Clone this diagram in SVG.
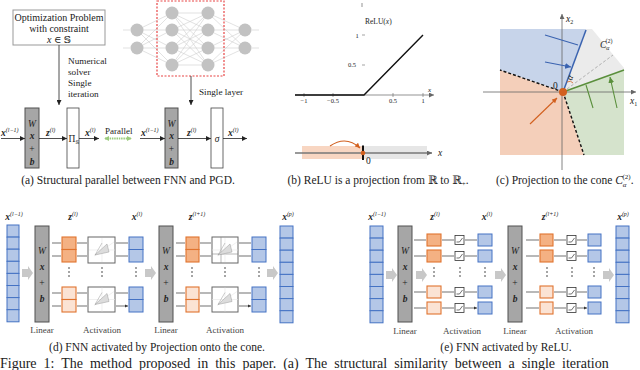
<svg xmlns="http://www.w3.org/2000/svg" width="640" height="370" viewBox="0 0 640 370">
<defs>
<style>
text{font-family:"Liberation Serif","DejaVu Serif",serif;fill:#222}
.bx{font-weight:bold;font-style:italic}
.it{font-style:italic}
.sup{font-size:6px;font-style:italic;font-weight:normal}
.cap{font-size:11.5px}
.lbl{font-size:9px;fill:#444}
.ln{stroke:#222;stroke-width:0.8;fill:none}
.sm{stroke:#333;stroke-width:0.7;fill:none}
.nn{stroke:#cfcfcf;stroke-width:0.6}
.node{fill:#c2c2c2}
.gbox{fill:#a6a6a6;stroke:#505050;stroke-width:1}
.wbox{fill:#fff;stroke:#444;stroke-width:0.8}
.blue{fill:#b4c7e7;stroke:#4472c4;stroke-width:1}
.od{fill:#f4b183;stroke:#e0742f;stroke-width:1.1}
.ol{fill:#fbe3d4;stroke:#e0742f;stroke-width:1.1}
.act{fill:#fff;stroke:#666;stroke-width:1}
.relu{fill:#fff;stroke:#333;stroke-width:0.8}
.garr{fill:#c8c8c8}
.dot{fill:#333}
</style>
<marker id="ah" viewBox="0 0 6 6" refX="6" refY="3" markerWidth="5" markerHeight="5" markerUnits="userSpaceOnUse" orient="auto"><path d="M0,0 L6,3 L0,6 z" fill="#222"/></marker>
<marker id="as" viewBox="0 0 6 6" refX="6" refY="3" markerWidth="3.5" markerHeight="3.5" markerUnits="userSpaceOnUse" orient="auto"><path d="M0,0 L6,3 L0,6 z" fill="#333"/></marker>
<marker id="ab" viewBox="0 0 6 6" refX="6" refY="3" markerWidth="6" markerHeight="6" markerUnits="userSpaceOnUse" orient="auto"><path d="M0,0 L6,3 L0,6 z" fill="#3a63b0"/></marker>
<marker id="ag" viewBox="0 0 6 6" refX="6" refY="3" markerWidth="6" markerHeight="6" markerUnits="userSpaceOnUse" orient="auto"><path d="M0,0 L6,3 L0,6 z" fill="#5a8f3c"/></marker>
<marker id="ao" viewBox="0 0 6 6" refX="6" refY="3" markerWidth="5" markerHeight="5" markerUnits="userSpaceOnUse" orient="auto"><path d="M0,0 L6,3 L0,6 z" fill="#d2601f"/></marker>
<marker id="agr" viewBox="0 0 6 6" refX="6" refY="3" markerWidth="5" markerHeight="5" markerUnits="userSpaceOnUse" orient="auto"><path d="M0,0 L6,3 L0,6 z" fill="#666"/></marker>
<marker id="apl" viewBox="0 0 6 6" refX="5" refY="3" markerWidth="5" markerHeight="5" markerUnits="userSpaceOnUse" orient="auto-start-reverse"><path d="M0,0 L6,3 L0,6 z" fill="#9ccc7e"/></marker>
<path id="garrow" d="M0,-4 L6,-4 L6,-7 L11,0 L6,7 L6,4 L0,4 z"/>
<g id="conepic">
<path d="M-8,6 L12,-8 M-13,0 L13,0 M0,-12 L0,12" stroke="#e6e6e6" stroke-width="0.6" fill="none"/>
<path d="M-7,5 L5,-6 L7,2 z" fill="#dcdcdc" stroke="#9a9a9a" stroke-width="0.5"/>
<path d="M-7,5 L0,-7" stroke="#999" stroke-width="0.5"/>
</g>
<g id="relupic"><path d="M-3,2 L0,2 L3,-2" stroke="#333" stroke-width="0.7" fill="none"/></g>
</defs>
<rect width="640" height="370" fill="#fff"/>

<!-- (a) -->
<g id="optbox">
<rect x="13" y="10" width="92" height="35" fill="#fff" stroke="#999" stroke-width="1"/>
<text x="59" y="20.5" font-size="10" text-anchor="middle">Optimization Problem</text>
<text x="59" y="31.5" font-size="10" text-anchor="middle">with constraint</text>
<text x="59" y="42.5" font-size="10" text-anchor="middle"><tspan class="it">x</tspan> ∈ 𝕊</text>
</g>
<g id="solvertext">
<text x="68" y="64" font-size="9.2">Numerical</text>
<text x="68" y="75" font-size="9.2">solver</text>
<text x="68" y="86" font-size="9.2">Single</text>
<text x="68" y="97" font-size="9.2">iteration</text>
</g>
<g id="nnet">
<g class="nn">
<path d="M137,30L172,13M137,30L172,30M137,30L172,48M137,30L172,65M137,48L172,13M137,48L172,30M137,48L172,48M137,48L172,65"/>
<path d="M172,13L208,13M172,13L208,30M172,13L208,48M172,13L208,65M172,30L208,13M172,30L208,30M172,30L208,48M172,30L208,65M172,48L208,13M172,48L208,30M172,48L208,48M172,48L208,65M172,65L208,13M172,65L208,30M172,65L208,48M172,65L208,65"/>
<path d="M208,13L245,30M208,30L245,30M208,48L245,30M208,65L245,30M208,13L245,48M208,30L245,48M208,48L245,48M208,65L245,48"/>
<path d="M123,30L130,30M123,48L130,48M252,30L259,30M252,48L259,48"/>
</g>
<circle class="node" cx="137" cy="30" r="6.5"/><circle class="node" cx="137" cy="48" r="6.5"/>
<circle class="node" cx="172" cy="13" r="6.5"/><circle class="node" cx="172" cy="30" r="6.5"/><circle class="node" cx="172" cy="48" r="6.5"/><circle class="node" cx="172" cy="65" r="6.5"/>
<circle class="node" cx="208" cy="13" r="6.5"/><circle class="node" cx="208" cy="30" r="6.5"/><circle class="node" cx="208" cy="48" r="6.5"/><circle class="node" cx="208" cy="65" r="6.5"/>
<circle class="node" cx="245" cy="30" r="6.5"/><circle class="node" cx="245" cy="48" r="6.5"/>
<rect x="157" y="1" width="67" height="75" fill="none" stroke="#e84545" stroke-width="1.2" stroke-dasharray="2,1.5"/>
</g>
<text x="199" y="95" font-size="9.2">Single layer</text>

<g id="a-lin1"><rect class="gbox" x="25" y="108" width="14" height="60"/>
<text x="32" y="127" font-size="9.5" text-anchor="middle" class="it">W</text>
<text x="32" y="139" font-size="9.5" text-anchor="middle" class="bx">x</text>
<text x="32" y="152" font-size="9.5" text-anchor="middle">+</text>
<text x="32" y="165" font-size="9.5" text-anchor="middle" class="bx">b</text></g>
<g id="a-proj"><rect class="wbox" x="67" y="108" width="12" height="60"/>
<text x="68.5" y="142" font-size="9.5">Π<tspan font-size="5" dy="2">𝕊</tspan></text></g>
<g id="a-lin2"><rect class="gbox" x="165" y="108" width="13" height="60"/>
<text x="171.5" y="127" font-size="9.5" text-anchor="middle" class="it">W</text>
<text x="171.5" y="139" font-size="9.5" text-anchor="middle" class="bx">x</text>
<text x="171.5" y="152" font-size="9.5" text-anchor="middle">+</text>
<text x="171.5" y="165" font-size="9.5" text-anchor="middle" class="bx">b</text></g>
<g id="a-sigma"><rect class="wbox" x="211" y="108" width="12" height="60"/>
<text x="217" y="142" font-size="9.5" text-anchor="middle" class="it">σ</text></g>
<g id="a-labels" font-size="9.5">
<text x="1" y="136"><tspan class="bx">x</tspan><tspan class="sup" dy="-4">(l−1)</tspan></text>
<text x="46" y="136"><tspan class="bx">z</tspan><tspan class="sup" dy="-4">(l)</tspan></text>
<text x="85" y="136"><tspan class="bx">x</tspan><tspan class="sup" dy="-4">(l)</tspan></text>
<text x="105" y="134" font-size="9">Parallel</text>
<text x="141" y="136"><tspan class="bx">x</tspan><tspan class="sup" dy="-4">(l−1)</tspan></text>
<text x="187" y="136"><tspan class="bx">z</tspan><tspan class="sup" dy="-4">(l)</tspan></text>
<text x="228" y="136"><tspan class="bx">x</tspan><tspan class="sup" dy="-4">(l)</tspan></text>
</g>
<g id="a-connectors">
<path class="ln" d="M1,138.5H25" marker-end="url(#ah)"/>
<path class="ln" d="M39,138.5H67" marker-end="url(#ah)"/>
<path class="ln" d="M79,138.5H99" marker-end="url(#ah)"/>
<path class="ln" d="M140,138.5H165" marker-end="url(#ah)"/>
<path class="ln" d="M178,138.5H211" marker-end="url(#ah)"/>
<path class="ln" d="M223,138.5H247" marker-end="url(#ah)"/>
<path class="ln" d="M59,45V105" marker-end="url(#ah)"/>
<path class="ln" d="M191,76V105" marker-end="url(#ah)"/>
<path d="M105,138.5H131" stroke="#9ccc7e" stroke-width="2" stroke-dasharray="1.5,0.8" marker-start="url(#apl)" marker-end="url(#apl)"/>
</g>
<text x="128" y="184" class="cap" text-anchor="middle">(a) Structural parallel between FNN and PGD.</text>

<!-- (b) -->
<g id="relu-plot">
<path d="M295,95H434" stroke="#666" stroke-width="0.7" marker-end="url(#agr)"/>
<path d="M362,3V7" stroke="#666" stroke-width="0.7"/>
<path d="M304,93V97M333,93V97M393,93V97M423,93V97M362,35H365M362,65H365" stroke="#666" stroke-width="0.6"/>
<g font-size="6.5" fill="#444" text-anchor="middle">
<text x="304" y="103">−1</text><text x="333" y="103">−0.5</text><text x="393" y="103">0.5</text><text x="423" y="103">1</text>
<text x="357" y="38">1</text><text x="352" y="67">0.5</text>
</g>
<text x="365" y="24" font-size="7.5">ReLU(<tspan class="it">x</tspan>)</text>
<text x="428" y="92" font-size="7" class="it">x</text>
<path d="M295,95H364L423,35" stroke="#111" stroke-width="1.4" fill="none"/>
</g>
<g id="relu-line">
<rect x="302" y="146" width="61" height="13" fill="#f8d6c2"/>
<rect x="363" y="146" width="64" height="13" fill="#e6e6e6"/>
<path d="M295,153H432" stroke="#777" stroke-width="1.4" marker-end="url(#agr)"/>
<path d="M363,145.5V160" stroke="#111" stroke-width="2"/>
<circle cx="363" cy="153" r="2.3" fill="#d2601f"/>
<path d="M330,146 Q346,135 360,148" stroke="#d2601f" stroke-width="1.1" fill="none" marker-end="url(#ao)"/>
<text x="366" y="164" font-size="9.5">0</text>
<text x="438" y="156" font-size="9.5" class="it">x</text>
</g>
<text x="378" y="184" class="cap" text-anchor="middle">(b) ReLU is a projection from ℝ to ℝ<tspan font-size="7" dy="2">+</tspan><tspan dy="-2">.</tspan></text>

<!-- (c) -->
<g id="cone">
<polygon points="500,29 586,29 563,92 500,70" fill="#c7d4ea"/>
<polygon points="586,29 592,29 624,68 624,70 563,92" fill="#ebebeb"/>
<polygon points="563,92 624,70 624,155 584,155" fill="#d5e3cc"/>
<polygon points="563,92 584,155 500,155 500,70" fill="#f4cfba"/>
<path d="M562,170V14" stroke="#666" stroke-width="0.8" marker-end="url(#agr)"/>
<path d="M483,92H636" stroke="#666" stroke-width="0.8" marker-end="url(#agr)"/>
<path d="M563,92L613,55" stroke="#888" stroke-width="0.6" stroke-dasharray="3,2"/>
<path d="M563,92L500,70M563,92L584,155" stroke="#111" stroke-width="1.4" stroke-dasharray="3,2"/>
<path d="M563,92L586,30" stroke="#3a63b0" stroke-width="1.5"/>
<path d="M563,92L624,70" stroke="#5a8f3c" stroke-width="1.5"/>
<path d="M545,35L578,45M545,62L571,67" stroke="#3a63b0" stroke-width="1.1" marker-end="url(#ab)"/>
<path d="M593,108L586,85M617,108L610,77" stroke="#5a8f3c" stroke-width="1.1" marker-end="url(#ag)"/>
<path d="M530,124L557,98" stroke="#d2601f" stroke-width="1.1" marker-end="url(#ao)"/>
<path d="M567,82 Q571,80 573,83" stroke="#d2601f" stroke-width="0.8" fill="none"/>
<circle cx="563" cy="92" r="4" fill="#d2601f"/>
<text x="553" y="89" font-size="9.5">0</text>
<text x="567" y="80" font-size="9" fill="#d2601f" class="it" transform="rotate(-70 570 77)">α</text>
<text x="600" y="48" font-size="9.5" class="it">C<tspan font-size="6" dy="2">α</tspan><tspan font-size="6" font-style="normal" dx="-4" dy="-7">(2)</tspan></text>
<text x="566" y="22" font-size="9.5" class="it">x<tspan font-size="6" font-style="normal" dy="2">2</tspan></text>
<text x="630" y="104" font-size="9.5" class="it">x<tspan font-size="6" font-style="normal" dy="2">1</tspan></text>
</g>
<text x="496" y="184" class="cap">(c) Projection to the cone <tspan class="it">C</tspan><tspan font-size="7" class="it" dy="3">α</tspan><tspan font-size="7" dx="-4" dy="-8">(2)</tspan><tspan dy="5">.</tspan></text>

<!-- (d) -->
<g id="d-in">
<rect class="blue" x="7" y="225" width="12" height="12.1"/><rect class="blue" x="7" y="237.1" width="12" height="12.1"/><rect class="blue" x="7" y="249.2" width="12" height="12.1"/><rect class="blue" x="7" y="261.3" width="12" height="12.1"/><rect class="blue" x="7" y="273.4" width="12" height="12.1"/><rect class="blue" x="7" y="285.5" width="12" height="12.1"/><rect class="blue" x="7" y="297.6" width="12" height="12.1"/><rect class="blue" x="7" y="309.7" width="12" height="12.1"/>
</g>
<g id="d-lin1"><rect class="gbox" x="35" y="226" width="14" height="96"/>
<text x="42" y="254" font-size="9.5" text-anchor="middle" class="it">W</text>
<text x="42" y="270" font-size="9.5" text-anchor="middle" class="bx">x</text>
<text x="42" y="286" font-size="9.5" text-anchor="middle">+</text>
<text x="42" y="302" font-size="9.5" text-anchor="middle" class="bx">b</text></g>
<g id="d-z1">
<rect class="od" x="62" y="237" width="14" height="12.5"/><rect class="od" x="62" y="249.5" width="14" height="12.5"/>
<rect class="ol" x="62" y="287" width="14" height="12.5"/><rect class="ol" x="62" y="299.5" width="14" height="12.5"/>
</g>
<g id="d-act1">
<rect class="act" x="88" y="237" width="27" height="26"/><use href="#conepic" x="102" y="250"/>
<rect class="act" x="88" y="287" width="27" height="25"/><use href="#conepic" x="102" y="299.5"/>
</g>
<g id="d-x1">
<rect class="blue" x="129" y="237" width="14" height="12.5"/><rect class="blue" x="129" y="249.5" width="14" height="12.5"/>
<rect class="blue" x="129" y="287" width="14" height="12.5"/><rect class="blue" x="129" y="299.5" width="14" height="12.5"/>
</g>
<g id="d-lin2"><rect class="gbox" x="159" y="226" width="14" height="96"/>
<text x="166" y="254" font-size="9.5" text-anchor="middle" class="it">W</text>
<text x="166" y="270" font-size="9.5" text-anchor="middle" class="bx">x</text>
<text x="166" y="286" font-size="9.5" text-anchor="middle">+</text>
<text x="166" y="302" font-size="9.5" text-anchor="middle" class="bx">b</text></g>
<g id="d-z2">
<rect class="od" x="186" y="237" width="13" height="12.5"/><rect class="od" x="186" y="249.5" width="13" height="12.5"/>
<rect class="ol" x="186" y="287" width="13" height="12.5"/><rect class="ol" x="186" y="299.5" width="13" height="12.5"/>
</g>
<g id="d-act2">
<rect class="act" x="212" y="237" width="26" height="26"/>
<path d="M212,254H238M221,237V263" stroke="#888" stroke-width="0.6"/>
<use href="#conepic" x="225" y="250"/>
<rect class="act" x="212" y="287" width="26" height="25"/><use href="#conepic" x="225" y="299.5"/>
</g>
<g id="d-x2">
<rect class="blue" x="252" y="237" width="14" height="12.5"/><rect class="blue" x="252" y="249.5" width="14" height="12.5"/>
<rect class="blue" x="252" y="287" width="14" height="12.5"/><rect class="blue" x="252" y="299.5" width="14" height="12.5"/>
</g>
<g id="d-out">
<rect class="blue" x="280" y="226" width="13" height="12.1"/><rect class="blue" x="280" y="238.1" width="13" height="12.1"/><rect class="blue" x="280" y="250.2" width="13" height="12.1"/><rect class="blue" x="280" y="262.3" width="13" height="12.1"/><rect class="blue" x="280" y="274.4" width="13" height="12.1"/><rect class="blue" x="280" y="286.5" width="13" height="12.1"/><rect class="blue" x="280" y="298.6" width="13" height="12.1"/><rect class="blue" x="280" y="310.7" width="13" height="12.1"/>
</g>
<g id="d-connectors">
<use href="#garrow" class="garr" x="22" y="273"/>
<use href="#garrow" class="garr" x="145" y="273"/>
<use href="#garrow" class="garr" x="267" y="273"/>
<path class="sm" marker-end="url(#as)" d="M52,243H61M52,256H61M52,293H61M52,306H61M77,243H87M77,256H87M77,293H87M77,306H87M116,243H128M116,256H128M116,293H128M116,306H128"/>
<path class="sm" marker-end="url(#as)" d="M176,243H185M176,256H185M176,293H185M176,306H185M200,243H211M200,256H211M200,293H211M200,306H211M239,243H251M239,256H251M239,293H251M239,306H251"/>
</g>
<g id="d-dots" class="dot">
<circle cx="69" cy="268" r="0.8"/><circle cx="69" cy="272" r="0.8"/><circle cx="69" cy="276" r="0.8"/>
<circle cx="102" cy="268" r="0.8"/><circle cx="102" cy="272" r="0.8"/><circle cx="102" cy="276" r="0.8"/>
<circle cx="136" cy="268" r="0.8"/><circle cx="136" cy="272" r="0.8"/><circle cx="136" cy="276" r="0.8"/>
<circle cx="192" cy="268" r="0.8"/><circle cx="192" cy="272" r="0.8"/><circle cx="192" cy="276" r="0.8"/>
<circle cx="225" cy="268" r="0.8"/><circle cx="225" cy="272" r="0.8"/><circle cx="225" cy="276" r="0.8"/>
<circle cx="259" cy="268" r="0.8"/><circle cx="259" cy="272" r="0.8"/><circle cx="259" cy="276" r="0.8"/>
</g>
<g id="d-labels" font-size="9.5" text-anchor="middle">
<text x="14" y="220"><tspan class="bx">x</tspan><tspan class="sup" dy="-4">(l−1)</tspan></text>
<text x="73" y="220"><tspan class="bx">z</tspan><tspan class="sup" dy="-4">(l)</tspan></text>
<text x="137" y="220"><tspan class="bx">x</tspan><tspan class="sup" dy="-4">(l)</tspan></text>
<text x="197" y="220"><tspan class="bx">z</tspan><tspan class="sup" dy="-4">(l+1)</tspan></text>
<text x="288" y="220"><tspan class="bx">x</tspan><tspan class="sup" dy="-4">(p)</tspan></text>
<text x="42" y="333" class="lbl">Linear</text>
<text x="102" y="333" class="lbl">Activation</text>
<text x="166" y="333" class="lbl">Linear</text>
<text x="225" y="333" class="lbl">Activation</text>
</g>
<text x="157" y="351" class="cap" text-anchor="middle">(d) FNN activated by Projection onto the cone.</text>

<!-- (e) -->
<g id="e-in">
<rect class="blue" x="370" y="226" width="13" height="12.1"/><rect class="blue" x="370" y="238.1" width="13" height="12.1"/><rect class="blue" x="370" y="250.2" width="13" height="12.1"/><rect class="blue" x="370" y="262.3" width="13" height="12.1"/><rect class="blue" x="370" y="274.4" width="13" height="12.1"/><rect class="blue" x="370" y="286.5" width="13" height="12.1"/><rect class="blue" x="370" y="298.6" width="13" height="12.1"/><rect class="blue" x="370" y="310.7" width="13" height="12.1"/>
</g>
<g id="e-lin1"><rect class="gbox" x="398" y="226" width="14" height="96"/>
<text x="405" y="254" font-size="9.5" text-anchor="middle" class="it">W</text>
<text x="405" y="270" font-size="9.5" text-anchor="middle" class="bx">x</text>
<text x="405" y="286" font-size="9.5" text-anchor="middle">+</text>
<text x="405" y="302" font-size="9.5" text-anchor="middle" class="bx">b</text></g>
<g id="e-z1">
<rect class="od" x="427" y="234" width="14" height="12"/><rect class="od" x="427" y="250" width="14" height="12"/>
<rect class="ol" x="427" y="286" width="14" height="12"/><rect class="ol" x="427" y="302" width="14" height="12"/>
</g>
<g id="e-act1">
<rect class="relu" x="455" y="235.5" width="9" height="9"/><use href="#relupic" x="459.5" y="240"/>
<rect class="relu" x="455" y="251.5" width="9" height="9"/><use href="#relupic" x="459.5" y="256"/>
<rect class="relu" x="455" y="287.5" width="9" height="9"/><use href="#relupic" x="459.5" y="292"/>
<rect class="relu" x="455" y="303.5" width="9" height="9"/><use href="#relupic" x="459.5" y="308"/>
</g>
<g id="e-x1">
<rect class="blue" x="478" y="234" width="14" height="12"/><rect class="blue" x="478" y="250" width="14" height="12"/>
<rect class="blue" x="478" y="286" width="14" height="12"/><rect class="blue" x="478" y="302" width="14" height="12"/>
</g>
<g id="e-lin2"><rect class="gbox" x="508" y="226" width="14" height="96"/>
<text x="515" y="254" font-size="9.5" text-anchor="middle" class="it">W</text>
<text x="515" y="270" font-size="9.5" text-anchor="middle" class="bx">x</text>
<text x="515" y="286" font-size="9.5" text-anchor="middle">+</text>
<text x="515" y="302" font-size="9.5" text-anchor="middle" class="bx">b</text></g>
<g id="e-z2">
<rect class="od" x="540" y="234" width="13" height="12"/><rect class="od" x="540" y="250" width="13" height="12"/>
<rect class="ol" x="540" y="286" width="13" height="12"/><rect class="ol" x="540" y="302" width="13" height="12"/>
</g>
<g id="e-act2">
<rect class="relu" x="567" y="235.5" width="9" height="9"/><use href="#relupic" x="571.5" y="240"/>
<rect class="relu" x="567" y="251.5" width="9" height="9"/><use href="#relupic" x="571.5" y="256"/>
<rect class="relu" x="567" y="287.5" width="9" height="9"/><use href="#relupic" x="571.5" y="292"/>
<rect class="relu" x="567" y="303.5" width="9" height="9"/><use href="#relupic" x="571.5" y="308"/>
</g>
<g id="e-x2">
<rect class="blue" x="588" y="234" width="13" height="12"/><rect class="blue" x="588" y="250" width="13" height="12"/>
<rect class="blue" x="588" y="286" width="13" height="12"/><rect class="blue" x="588" y="302" width="13" height="12"/>
</g>
<g id="e-out">
<rect class="blue" x="616" y="226" width="13" height="12.1"/><rect class="blue" x="616" y="238.1" width="13" height="12.1"/><rect class="blue" x="616" y="250.2" width="13" height="12.1"/><rect class="blue" x="616" y="262.3" width="13" height="12.1"/><rect class="blue" x="616" y="274.4" width="13" height="12.1"/><rect class="blue" x="616" y="286.5" width="13" height="12.1"/><rect class="blue" x="616" y="298.6" width="13" height="12.1"/><rect class="blue" x="616" y="310.7" width="13" height="12.1"/>
</g>
<g id="e-connectors">
<use href="#garrow" class="garr" x="386" y="275"/>
<use href="#garrow" class="garr" x="416" y="275"/>
<use href="#garrow" class="garr" x="495" y="275"/>
<use href="#garrow" class="garr" x="603" y="275"/>
<path class="sm" marker-end="url(#as)" d="M414,240H426M414,256H426M414,292H426M414,308H426M442,240H454M442,256H454M442,292H454M442,308H454M465,240H477M465,256H477M465,292H477M465,308H477"/>
<path class="sm" marker-end="url(#as)" d="M526,240H539M526,256H539M526,292H539M526,308H539M554,240H566M554,256H566M554,292H566M554,308H566M577,240H587M577,256H587M577,292H587M577,308H587"/>
</g>
<g id="e-dots" class="dot">
<circle cx="434" cy="268" r="0.8"/><circle cx="434" cy="272" r="0.8"/><circle cx="434" cy="276" r="0.8"/>
<circle cx="460" cy="268" r="0.8"/><circle cx="460" cy="272" r="0.8"/><circle cx="460" cy="276" r="0.8"/>
<circle cx="485" cy="268" r="0.8"/><circle cx="485" cy="272" r="0.8"/><circle cx="485" cy="276" r="0.8"/>
<circle cx="547" cy="268" r="0.8"/><circle cx="547" cy="272" r="0.8"/><circle cx="547" cy="276" r="0.8"/>
<circle cx="572" cy="268" r="0.8"/><circle cx="572" cy="272" r="0.8"/><circle cx="572" cy="276" r="0.8"/>
<circle cx="594" cy="268" r="0.8"/><circle cx="594" cy="272" r="0.8"/><circle cx="594" cy="276" r="0.8"/>
</g>
<g id="e-labels" font-size="9.5" text-anchor="middle">
<text x="377" y="220"><tspan class="bx">x</tspan><tspan class="sup" dy="-4">(l−1)</tspan></text>
<text x="435" y="220"><tspan class="bx">z</tspan><tspan class="sup" dy="-4">(l)</tspan></text>
<text x="487" y="220"><tspan class="bx">x</tspan><tspan class="sup" dy="-4">(l)</tspan></text>
<text x="550" y="220"><tspan class="bx">z</tspan><tspan class="sup" dy="-4">(l+1)</tspan></text>
<text x="623" y="220"><tspan class="bx">x</tspan><tspan class="sup" dy="-4">(p)</tspan></text>
<text x="405" y="334" class="lbl">Linear</text>
<text x="462" y="334" class="lbl">Activation</text>
<text x="515" y="334" class="lbl">Linear</text>
<text x="574" y="334" class="lbl">Activation</text>
</g>
<text x="506" y="351" class="cap" text-anchor="middle">(e) FNN activated by ReLU.</text>

<text x="0" y="368" font-size="14" word-spacing="3.5">Figure 1:  The method proposed in this paper.  (a) The structural similarity between a single iteration</text>
</svg>
